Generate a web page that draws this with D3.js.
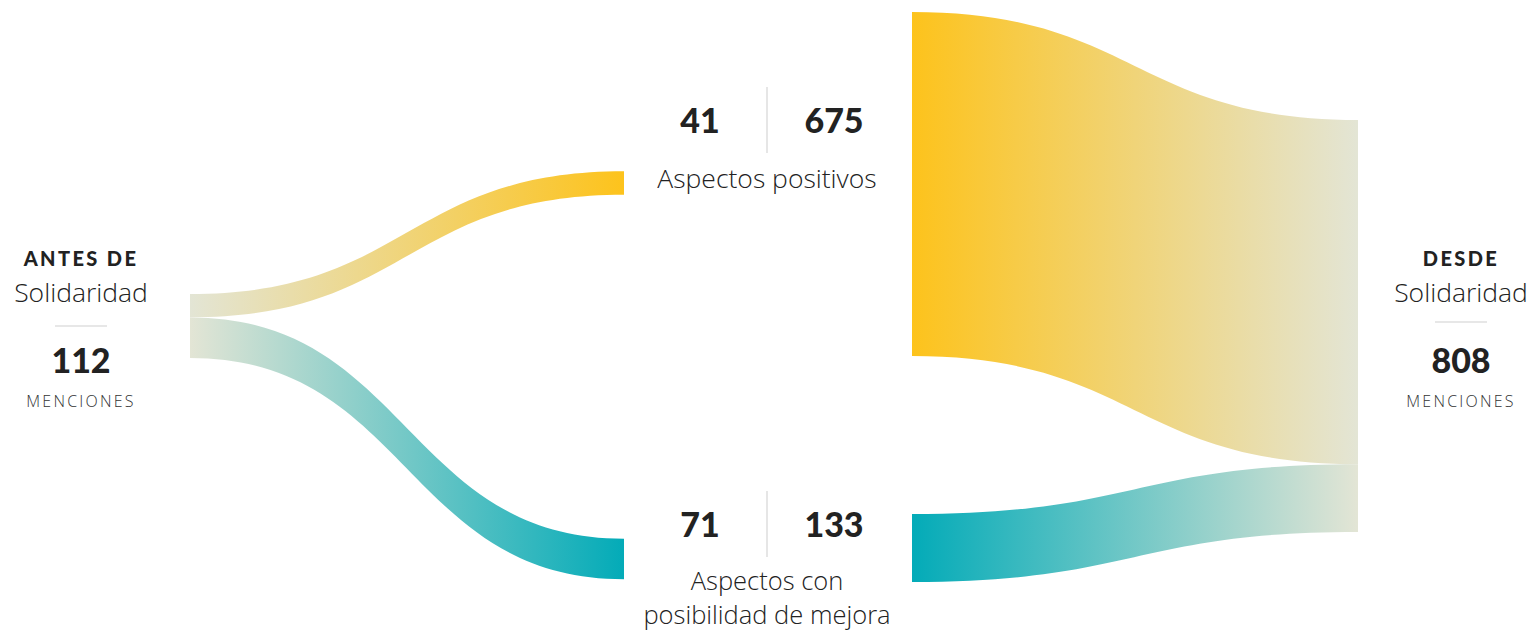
<!DOCTYPE html>
<html>
<head>
<meta charset="utf-8">
<script src="https://cdn.jsdelivr.net/npm/d3@7"></script>
<style>
  body { margin: 0; background: #fff; }
  text { font-family: "Open Sans", "Lato", sans-serif; fill: #222; }
  .big { font-family: "Lato", sans-serif; font-weight: 900; }
</style>
</head>
<body>
<script>
/* ------------------------------- chart data ------------------------------- */
const stages = ["ANTES DE", "DESDE"]
const stageName = "Solidaridad"
const stageTotals = [112, 808]
const categories = ["Aspectos positivos", "Aspectos con\nposibilidad de mejora"]
const antes = [41, 71]
const desde = [675, 133]

/* -------------------------- define document size -------------------------- */
const width = 1529, height = 631
const yellow = "#fdc31c", teal = "#03abb8", beige = "#e3e5d5"
const catColors = [yellow, teal]

const svg = d3.select("body").append("svg")
    .attr("width", width)
    .attr("height", height)

const defs = svg.append("defs")

// scales: px per mention, one for each side
const yAntes = d3.scaleLinear().domain([0, stageTotals[0]]).range([0, 64])
const yDesde = d3.scaleLinear().domain([0, stageTotals[1]]).range([0, 412])

// band between two horizontal bezier curves
const band = function(x0, x1, a0, a1, b0, b1) {
    const xm = (x0 + x1) / 2
    return "M" + x0 + "," + a0 +
        "C" + xm + "," + a0 + " " + xm + "," + b0 + " " + x1 + "," + b0 +
        "L" + x1 + "," + b1 +
        "C" + xm + "," + b1 + " " + xm + "," + a1 + " " + x0 + "," + a1 + "Z"
}

const grad = function(id, c0, c1) {
    const g = defs.append("linearGradient").attr("id", id)
        .attr("x1", "0%").attr("x2", "100%").attr("y1", "0%").attr("y2", "0%")
    g.append("stop").attr("offset", "0%").attr("stop-color", c0)
    g.append("stop").attr("offset", "100%").attr("stop-color", c1)
}

/* ------------------------------ left sankey ------------------------------- */
const leftX0 = 190, leftX1 = 624, leftTop = 294
const midCenters = [183, 559]
let acc = 0
antes.forEach((v, i) => {
    grad("gl" + i, beige, catColors[i])
    const h = yAntes(v)
    const a0 = leftTop + yAntes(acc)
    const b0 = midCenters[i] - h / 2
    svg.append("path")
        .attr("d", band(leftX0, leftX1, a0, a0 + h, b0, b0 + h))
        .attr("fill", "url(#gl" + i + ")")
    acc += v
})

/* ------------------------------ right sankey ------------------------------ */
const rightX0 = 912, rightX1 = 1358, rightTop = 120
const rightCenters = [184, 548]
acc = 0
desde.forEach((v, i) => {
    grad("gr" + i, catColors[i], beige)
    const h = yDesde(v)
    const a0 = rightCenters[i] - h / 2
    const b0 = rightTop + yDesde(acc)
    svg.append("path")
        .attr("d", band(rightX0, rightX1, a0, a0 + h, b0, b0 + h))
        .attr("fill", "url(#gr" + i + ")")
    acc += v
})

/* ------------------------------ middle labels ----------------------------- */
const numTops = [109, 513]
categories.forEach((c, i) => {
    const g = svg.append("g")
    const yb = numTops[i] + 24
    g.append("line")
        .attr("x1", 767).attr("x2", 767)
        .attr("y1", numTops[i] - 22).attr("y2", numTops[i] + 44)
        .attr("stroke", "#d6d6d6").attr("stroke-width", 1.2)
    g.append("text").attr("class", "big")
        .attr("x", 700).attr("y", yb).attr("text-anchor", "middle")
        .attr("font-size", 34).text(antes[i])
    g.append("text").attr("class", "big")
        .attr("x", 834).attr("y", yb).attr("text-anchor", "middle")
        .attr("font-size", 34).text(desde[i])
    const lines = c.split("\n")
    lines.forEach((line, k) => {
        g.append("text")
            .attr("x", 767).attr("y", yb + (lines.length > 1 ? 53 : 55) + k * 34)
            .attr("text-anchor", "middle")
            .attr("font-size", lines.length > 1 ? 25.5 : 26.5).attr("font-weight", 300)
            .text(line)
    })
})

/* ------------------------------- side labels ------------------------------ */
const sideX = [81, 1461]
stages.forEach((s, i) => {
    const g = svg.append("g").attr("transform", "translate(" + sideX[i] + ",0)")
    g.append("text").attr("class", "big")
        .attr("y", 266).attr("text-anchor", "middle")
        .attr("font-size", 20).attr("letter-spacing", 2.4)
        .text(s)
    g.append("text")
        .attr("y", 302).attr("text-anchor", "middle")
        .attr("font-size", 26.5).attr("font-weight", 300)
        .text(stageName)
    g.append("line")
        .attr("x1", -26).attr("x2", 26)
        .attr("y1", i == 0 ? 326 : 322).attr("y2", i == 0 ? 326 : 322)
        .attr("stroke", "#cfcfcf").attr("stroke-width", 1.2)
    g.append("text").attr("class", "big")
        .attr("y", 373).attr("text-anchor", "middle")
        .attr("font-size", 34)
        .text(stageTotals[i])
    g.append("text")
        .attr("y", 407).attr("text-anchor", "middle")
        .attr("font-size", 16).attr("letter-spacing", 2.2)
        .attr("font-weight", 300)
        .style("fill", "#333")
        .text("MENCIONES")
})
</script>
</body>
</html>
